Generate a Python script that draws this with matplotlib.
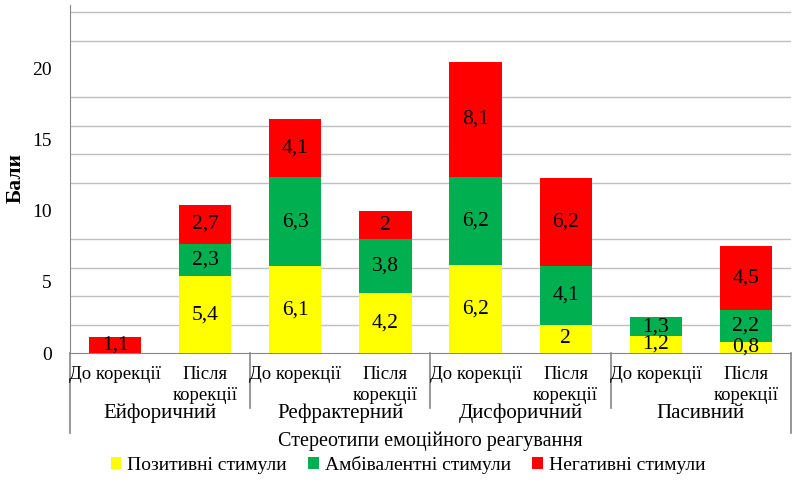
import numpy as np
import matplotlib.pyplot as plt
import matplotlib.transforms as mtransforms
from matplotlib.patches import Patch

plt.rcParams['font.family'] = ['Liberation Serif', 'DejaVu Serif']

groups = ['Ейфоричний', 'Рефрактерний', 'Дисфоричний', 'Пасивний']
stages = ['До корекції', 'Після\nкорекції']
positive = [0, 5.4, 6.1, 4.2, 6.2, 2, 1.2, 0.8]
ambivalent = [0, 2.3, 6.3, 3.8, 6.2, 4.1, 1.3, 2.2]
negative = [1.1, 2.7, 4.1, 2, 8.1, 6.2, 0, 4.5]
series_names = ['Позитивні стимули', 'Амбівалентні стимули', 'Негативні стимули']
colors = ['#FFFF00', '#00B050', '#FF0000']


def fmt(v):
    s = ('%.1f' % v).rstrip('0').rstrip('.')
    return s.replace('.', ',')


fig = plt.figure(figsize=(8.03, 4.94), dpi=100)
ax = fig.add_axes([70 / 803, (494 - 353) / 494, (791 - 70) / 803, 348 / 494])

x = np.arange(len(positive))
bottom = np.zeros(len(x))
for vals, col in zip([positive, ambivalent, negative], colors):
    vals = np.array(vals, dtype=float)
    ax.bar(x, vals, width=0.58, bottom=bottom, color=col, zorder=3)
    for xi, b, v in zip(x, bottom, vals):
        if v > 0:
            ax.text(xi, b + v / 2, fmt(v), ha='center', va='center',
                    fontsize=15.5, zorder=4)
    bottom += vals

ax.set_xlim(-0.5, len(x) - 0.5)
ax.set_ylim(0, 24.5)
ax.set_yticks([0, 5, 10, 15, 20])
ax.set_yticks(np.arange(0, 25, 2), minor=True)
ax.grid(axis='y', which='minor', color='#BFBFBF', linewidth=1, zorder=0)
ax.tick_params(axis='y', which='both', length=0, labelsize=14, pad=13)
ax.tick_params(axis='x', which='both', length=0, labelbottom=False)
for s in ['top', 'right']:
    ax.spines[s].set_visible(False)
ax.spines['left'].set_color('#868686')
ax.spines['bottom'].set_color('#868686')

# multi level category axis
trans = mtransforms.blended_transform_factory(ax.transData, fig.transFigure)
y_inner = (494 - 408) / 494
y_outer = (494 - 433) / 494
y_axis = (494 - 353) / 494
for i in range(len(groups) + 1):
    xb = i * 2 - 0.5
    ylow = y_outer if i in (0, len(groups)) else y_inner
    ax.plot([xb, xb], [y_axis, ylow], color='#868686', lw=1.2,
            transform=trans, clip_on=False)

for i in range(len(x)):
    lab = stages[i % 2]
    ax.text(x[i], (494 - 366) / 494, lab, ha='center', va='top',
            fontsize=13.5, transform=trans, linespacing=1.3)

for g, name in enumerate(groups):
    ax.text(g * 2 + 0.5, (494 - 413) / 494, name, ha='center', va='center',
            fontsize=15, transform=trans)

fig.text(430 / 803, (494 - 441) / 494, 'Стереотипи емоційного реагування',
         ha='center', va='center', fontsize=14.5)
fig.text(16 / 803, (494 - 178) / 494, 'Бали', rotation=90, ha='center',
         va='center', fontsize=15.5, fontweight='bold')

handles = [Patch(facecolor=c, edgecolor='none') for c in colors]
fig.legend(handles, series_names, loc='center', ncol=3, frameon=False,
           bbox_to_anchor=(408 / 803, (494 - 465) / 494), fontsize=14,
           handlelength=0.55, handleheight=0.55, handletextpad=0.3,
           columnspacing=1.1)

fig.savefig('out.png', dpi=100)
